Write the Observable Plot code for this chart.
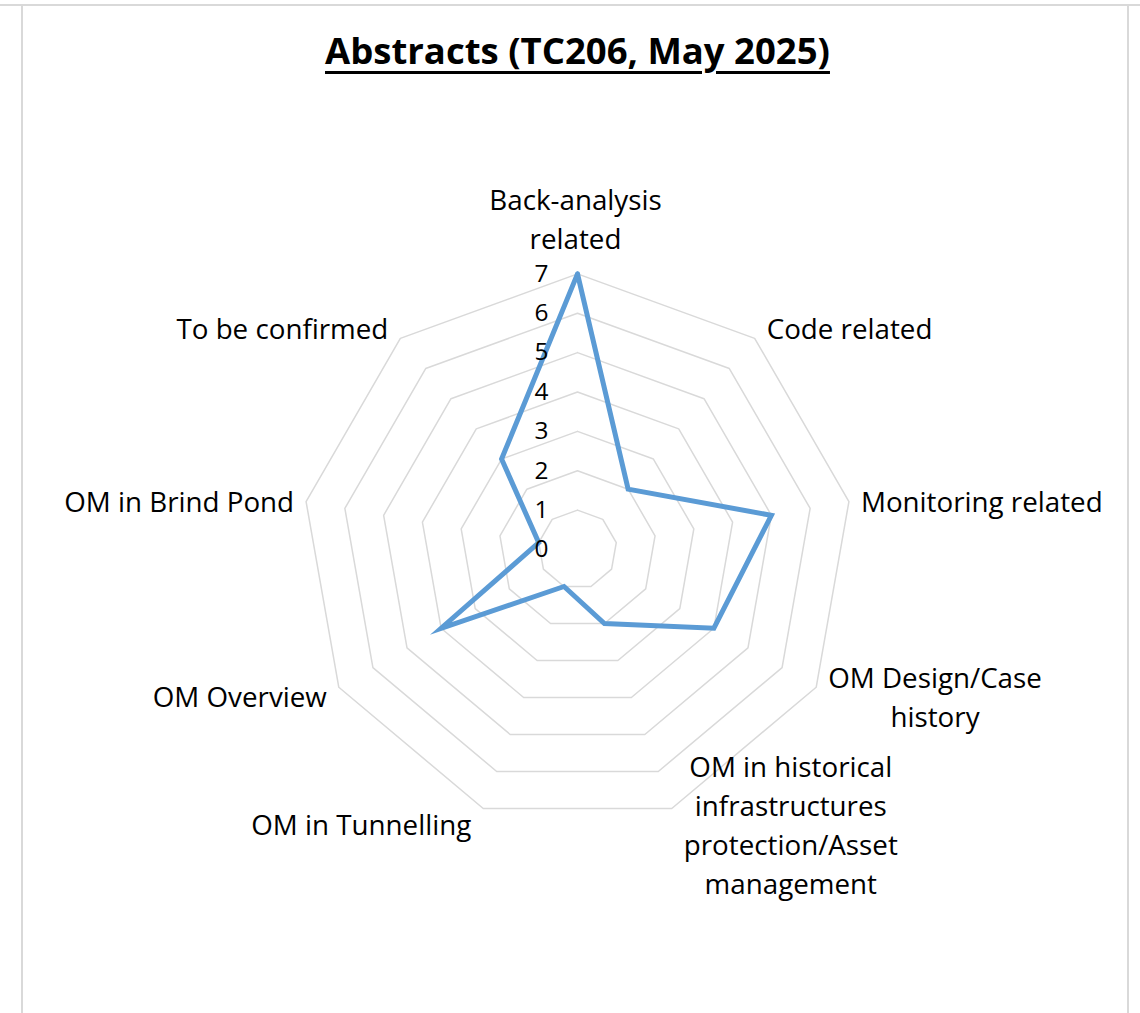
<!DOCTYPE html>
<html>
<head>
<meta charset="utf-8">
<script src="https://cdn.jsdelivr.net/npm/d3@7"></script>
<script src="https://cdn.jsdelivr.net/npm/@observablehq/plot@0.6"></script>
<style>
  html, body { margin: 0; padding: 0; background: #ffffff; }
  #wrap { position: relative; width: 1140px; height: 1013px; overflow: hidden; background: #fff; }
  .fl { position: absolute; background: #d9d9d9; }
  #title { position: absolute; left: 0; width: 1155px; text-align: center; color: #000;
           font-family: "Open Sans", sans-serif; font-weight: bold; line-height: 1;
           text-decoration: underline; text-decoration-thickness: 2.5px; text-underline-offset: 7px; white-space: nowrap; }
  #chart { position: absolute; left: 0; top: 0; }
</style>
</head>
<body>
<div id="wrap">
  <div class="fl" style="left:0;top:4px;width:1140px;height:2px;"></div>
  <div class="fl" style="left:21px;top:5px;width:2px;height:1010px;"></div>
  <div class="fl" style="left:1127px;top:5px;width:2px;height:1010px;"></div>
  <div id="title"></div>
  <div id="chart"></div>
</div>
<script>
// ---- data ----
const titleText = "Abstracts (TC206, May 2025)";
const categories = [
  "Back-analysis\nrelated",
  "Code related",
  "Monitoring related",
  "OM Design/Case\nhistory",
  "OM in historical\ninfrastructures\nprotection/Asset\nmanagement",
  "OM in Tunnelling",
  "OM Overview",
  "OM in Brind Pond",
  "To be confirmed"
];
const values = [7, 2, 5, 4, 2, 1, 4, 1, 3];
const ticks = [0, 1, 2, 3, 4, 5, 6, 7];

// ---- layout ----
const W = 1140, H = 1013, CX = 577, CY = 549, R = 275.6;
const MAX = d3.max(ticks);
const u = R / MAX;
const n = categories.length;
const ang = i => 2 * Math.PI * i / n;

const FONT = '"Open Sans", sans-serif';
const ctx = document.createElement("canvas").getContext("2d");
function tw(s, size, weight = "normal") { ctx.font = `${weight} ${size}px ${FONT}`; return ctx.measureText(s).width; }
const F = 27 * 212 / tw("To be confirmed", 27);
const TF = F * 0.88;
const LH = 39;

// title
const tEl = document.getElementById("title");
const TS = 30 * 505 / tw(titleText, 30, "bold");
tEl.textContent = titleText;
tEl.style.fontSize = TS + "px";
tEl.style.top = (64 - 0.888 * TS) + "px";

// rings
const rings = [];
for (const k of ticks.filter(t => t > 0)) {
  for (let i = 0; i <= n; i++) {
    const a = ang(i % n);
    rings.push({k, x: k * Math.sin(a), y: k * Math.cos(a)});
  }
}
// series
const series = values.map((v, i) => ({cat: categories[i], v, x: v * Math.sin(ang(i)), y: v * Math.cos(ang(i))}));
series.push(series[0]);

// category labels
const labelMarks = categories.map((c, i) => {
  const a = ang(i), s = Math.sin(a), co = Math.cos(a);
  const lines = c.split("\n");
  const w = Math.max(...lines.map(l => tw(l, F)));
  let dx, dy;
  if (Math.abs(s) < 1e-6) { dx = -2; dy = -(18 + lines.length * LH / 2) * Math.sign(co); }
  else { dx = Math.sign(s) * (12 + w / 2); dy = -co * 15; }
  return Plot.text([{x: MAX * s, y: MAX * co, t: c}], {
    x: "x", y: "y", text: "t", dx, dy, textAnchor: "middle", lineAnchor: "middle",
    fontSize: F, lineHeight: LH / F, fill: "#000"
  });
});

const chart = Plot.plot({
  width: W, height: H, margin: 0,
  x: {domain: [-CX / u, (W - CX) / u], axis: null},
  y: {domain: [-(H - CY) / u, CY / u], axis: null},
  style: {fontFamily: FONT, background: "transparent", overflow: "visible"},
  marks: [
    Plot.line(rings, {x: "x", y: "y", z: "k", stroke: "#d9d9d9", strokeWidth: 1.5}),
    Plot.line(series, {x: "x", y: "y", stroke: "#5B9BD5", strokeWidth: 5, strokeLinejoin: "miter", strokeMiterlimit: 6}),
    Plot.text(ticks, {x: 0, y: d => d, text: d => String(d), textAnchor: "end", dx: -29, fontSize: TF, fill: "#000"}),
    ...labelMarks
  ]
});
document.getElementById("chart").appendChild(chart);
</script>
</body>
</html>
